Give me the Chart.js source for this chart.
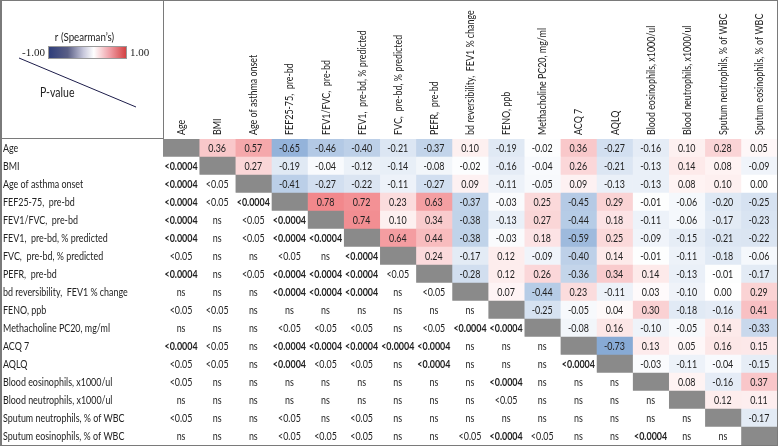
<!DOCTYPE html>
<html><head><meta charset="utf-8">
<script src="https://cdn.jsdelivr.net/npm/chart.js@4.4.1/dist/chart.umd.min.js"></script>
<style>html,body{margin:0;padding:0;background:#fff}#wrap{width:778px;height:446px;position:relative}</style>
</head><body><div id="wrap"><canvas id="c"></canvas></div>
<script>
const variables = [
  "Age", "BMI", "Age of asthma onset", "FEF25-75,  pre-bd", "FEV1/FVC,  pre-bd",
  "FEV1,  pre-bd, % predicted", "FVC,  pre-bd, % predicted", "PEFR,  pre-bd",
  "bd reversibility,  FEV1 % change", "FENO, ppb", "Methacholine PC20, mg/ml",
  "ACQ 7", "AQLQ", "Blood eosinophils, x1000/ul", "Blood neutrophils, x1000/ul",
  "Sputum neutrophils, % of WBC", "Sputum eosinophils, % of WBC"
];
// Spearman r, upper triangle: rRows[i] holds columns i+1 .. 16
const rRows = [
  [0.36, 0.57, -0.65, -0.46, -0.40, -0.21, -0.37, 0.10, -0.19, -0.02, 0.36, -0.27, -0.16, 0.10, 0.28, 0.05],
  [0.27, -0.19, -0.04, -0.12, -0.14, -0.08, -0.02, -0.16, -0.04, 0.26, -0.21, -0.13, 0.14, 0.08, -0.09],
  [-0.41, -0.27, -0.22, -0.11, -0.27, 0.09, -0.11, -0.05, 0.09, -0.13, -0.13, 0.08, 0.10, 0.00],
  [0.78, 0.72, 0.23, 0.63, -0.37, -0.03, 0.25, -0.45, 0.29, -0.01, -0.06, -0.20, -0.25],
  [0.74, 0.10, 0.34, -0.38, -0.13, 0.27, -0.44, 0.18, -0.11, -0.06, -0.17, -0.23],
  [0.64, 0.44, -0.38, -0.03, 0.18, -0.59, 0.25, -0.09, -0.15, -0.21, -0.22],
  [0.24, -0.17, 0.12, -0.09, -0.40, 0.14, -0.01, -0.11, -0.18, -0.06],
  [-0.28, 0.12, 0.26, -0.36, 0.34, 0.14, -0.13, -0.01, -0.17],
  [0.07, -0.44, 0.23, -0.11, 0.03, -0.10, 0.00, 0.29],
  [-0.25, -0.05, 0.04, 0.30, -0.18, -0.16, 0.41],
  [-0.08, 0.16, -0.10, -0.05, 0.14, -0.33],
  [-0.73, 0.13, 0.05, 0.16, 0.15],
  [-0.03, -0.11, -0.04, -0.15],
  [0.08, -0.16, 0.37],
  [0.12, 0.11],
  [-0.17],
  []
];
// P-values, lower triangle: pRows[i] holds columns 0 .. i-1
const pRows = [
  [],
  ["<0.0004"],
  ["<0.0004", "<0.05"],
  ["<0.0004", "<0.05", "<0.0004"],
  ["<0.0004", "ns", "<0.05", "<0.0004"],
  ["<0.0004", "ns", "<0.05", "<0.0004", "<0.0004"],
  ["<0.05", "ns", "ns", "<0.05", "ns", "<0.0004"],
  ["<0.0004", "ns", "<0.05", "<0.0004", "<0.0004", "<0.0004", "<0.05"],
  ["ns", "ns", "ns", "<0.0004", "<0.0004", "<0.0004", "ns", "<0.05"],
  ["<0.05", "<0.05", "ns", "ns", "ns", "ns", "ns", "ns", "ns"],
  ["ns", "ns", "ns", "<0.05", "<0.05", "<0.05", "ns", "<0.05", "<0.0004", "<0.0004"],
  ["<0.0004", "<0.05", "ns", "<0.0004", "<0.0004", "<0.0004", "<0.0004", "<0.0004", "ns", "ns", "ns"],
  ["<0.05", "<0.05", "ns", "<0.0004", "<0.05", "<0.05", "ns", "<0.0004", "ns", "ns", "ns", "<0.0004"],
  ["<0.05", "ns", "ns", "ns", "ns", "ns", "ns", "ns", "ns", "<0.0004", "ns", "ns", "ns"],
  ["ns", "ns", "ns", "ns", "ns", "ns", "ns", "ns", "ns", "<0.05", "ns", "ns", "ns", "ns"],
  ["<0.05", "ns", "ns", "<0.05", "ns", "<0.05", "ns", "ns", "ns", "ns", "ns", "ns", "ns", "ns", "ns"],
  ["ns", "ns", "ns", "<0.05", "<0.05", "<0.05", "ns", "ns", "<0.05", "<0.0004", "<0.05", "ns", "ns", "<0.0004", "ns", "ns"]
];
const legendTicks = ["-1.00", "1.00"];
const legendTitle = "r (Spearman\u2019s)";
const lowerTitle = "P-value";
const strongP = "<0.0004";

const BLUE = [90, 138, 198], RED = [238, 102, 108], DIAG = '#8a8a8a';
function mix(c, t) {
  t = Math.min(1, Math.abs(t));
  return 'rgb(' + c.map(v => Math.round(255 - (255 - v) * t)).join(',') + ')';
}
function cellColor(i, j) {
  if (i === j) return DIAG;
  if (i > j) return '#ffffff';
  const r = rRows[i][j - i - 1];
  return r < 0 ? mix(BLUE, -r) : mix(RED, r);
}

const datasets = variables.map((_, j) => ({
  label: variables[j],
  data: variables.map(() => [j, j + 1]),
  backgroundColor: variables.map((_, i) => cellColor(i, j)),
  borderWidth: 0,
  barPercentage: 1,
  categoryPercentage: 1
}));

const SANS = 'Lato, "Open Sans", sans-serif';
const TXT = '#222';
const SX = 0.81; // horizontal condensing to mimic a narrow (Calibri-like) face

function drawText(ctx, s, x, y, align, font, rot) {
  ctx.save();
  ctx.translate(x, y);
  if (rot) ctx.rotate(rot);
  ctx.scale(SX, 1);
  ctx.font = font;
  ctx.textAlign = align;
  ctx.textBaseline = 'middle';
  ctx.fillText(s, 0, 0);
  ctx.restore();
}

const cellText = {
  id: 'cellText',
  afterDatasetsDraw(chart) {
    const { ctx, chartArea: ca, scales: { x, y } } = chart;
    ctx.save();
    ctx.fillStyle = TXT;
    variables.forEach((_, i) => {
      const py = y.getPixelForValue(i) + 0.5;
      // row label
      drawText(ctx, variables[i], 3, py, 'left', '11px ' + SANS);
      variables.forEach((_, j) => {
        if (i === j) return;
        let txt, bold = false;
        if (j > i) txt = rRows[i][j - i - 1].toFixed(2);
        else { txt = pRows[i][j]; bold = txt === strongP; }
        drawText(ctx, txt, x.getPixelForValue(j + 0.5), py, 'center', (bold ? 'bold ' : '') + '11px ' + SANS);
      });
    });
    // column headers (rotated)
    variables.forEach((name, j) => {
      drawText(ctx, name, x.getPixelForValue(j + 0.5) + 0.5, ca.top - 4, 'left', '11px ' + SANS, -Math.PI / 2);
    });
    ctx.restore();
  }
};

const decor = {
  id: 'decor',
  afterDraw(chart) {
    const { ctx, chartArea: ca, width: W, height: H } = chart;
    ctx.save();
    ctx.strokeStyle = '#7a7a7a';
    ctx.lineWidth = 1;
    ctx.strokeRect(0.5, 0.5, W - 1, H - 1);
    ctx.beginPath();
    ctx.moveTo(1.5, 0); ctx.lineTo(1.5, H);
    ctx.moveTo(Math.round(ca.left) + 0.5, 0); ctx.lineTo(Math.round(ca.left) + 0.5, Math.round(ca.top));
    ctx.moveTo(0, Math.round(ca.top) - 0.5); ctx.lineTo(Math.round(ca.left), Math.round(ca.top) - 0.5);
    ctx.stroke();
    const bx = 48, by = 46, bw = 79, bh = 13;
    const g = ctx.createLinearGradient(bx, 0, bx + bw, 0);
    g.addColorStop(0, '#2d3c7a');
    g.addColorStop(0.25, '#5a5f86');
    g.addColorStop(0.45, '#c8c8dc');
    g.addColorStop(0.58, '#ffffff');
    g.addColorStop(0.78, '#f0a0a8');
    g.addColorStop(1, '#d23c3c');
    ctx.fillStyle = g;
    ctx.fillRect(bx, by, bw, bh);
    ctx.strokeStyle = '#999';
    ctx.strokeRect(bx + 0.5, by + 0.5, bw - 1, bh - 1);
    ctx.fillStyle = TXT;
    drawText(ctx, legendTitle, bx + bw / 2 - 3, 37, 'center', '12px ' + SANS);
    ctx.textBaseline = 'middle';
    ctx.font = '11px "Liberation Serif", serif';
    ctx.textAlign = 'right';
    ctx.fillText(legendTicks[0], bx - 3, by + bh / 2 + 1);
    ctx.textAlign = 'left';
    ctx.fillText(legendTicks[1], bx + bw + 3, by + bh / 2 + 1);
    ctx.strokeStyle = '#1c1c4a';
    ctx.beginPath();
    ctx.moveTo(19, 58); ctx.lineTo(136, 107);
    ctx.stroke();
    drawText(ctx, lowerTitle, 40, 93, 'left', '13px ' + SANS);
    ctx.restore();
  }
};

new Chart(document.getElementById('c'), {
  type: 'bar',
  data: { labels: variables, datasets },
  options: {
    indexAxis: 'y',
    responsive: true,
    maintainAspectRatio: false,
    animation: false,
    layout: { padding: { left: 4, top: 0, right: 1, bottom: 1 } },
    plugins: { legend: { display: false }, tooltip: { enabled: false } },
    scales: {
      y: {
        type: 'category',
        stacked: true,
        grid: { display: false },
        border: { display: false },
        ticks: { display: false },
        afterFit(s) { s.width = 159; }
      },
      x: {
        type: 'linear',
        position: 'top',
        min: 0,
        max: variables.length,
        stacked: false,
        grid: { display: false, drawTicks: false },
        border: { display: false },
        ticks: { display: false },
        afterFit(s) { s.height = 139; }
      }
    }
  },
  plugins: [cellText, decor]
});
</script>
</body></html>
